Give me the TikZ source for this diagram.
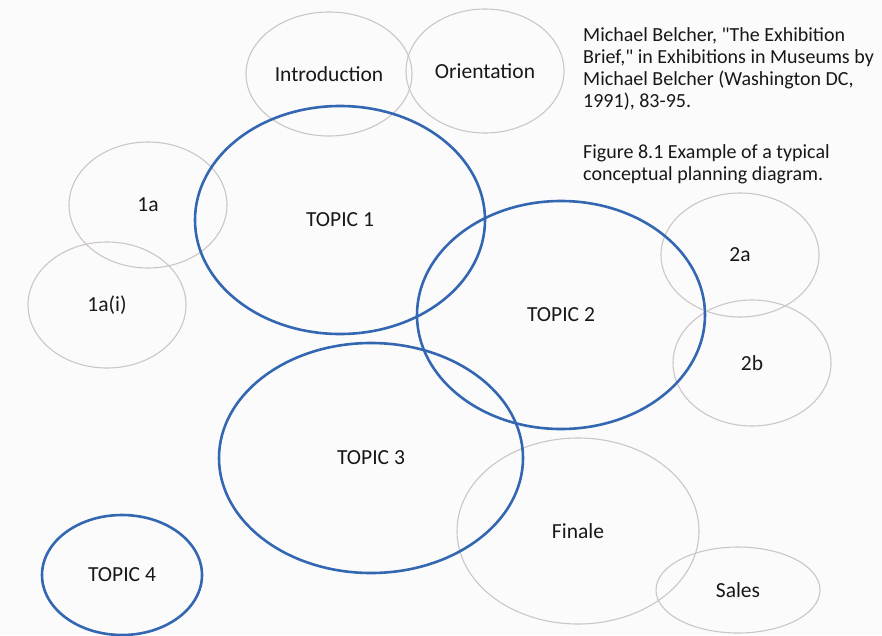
\documentclass[tikz,border=0pt]{standalone}
\usepackage{fontspec}
\setmainfont{Carlito}[Ligatures=TeXOff]
\usepackage{tikz}
\usetikzlibrary{shapes.geometric, positioning}
\definecolor{topicblue}{RGB}{52,103,178}
\definecolor{ringgray}{RGB}{204,198,198}
\definecolor{inkgray}{RGB}{24,24,24}
\tikzset{
	topicring/.style={ellipse, draw=topicblue, line width=2.6pt, inner sep=0pt,
		font=\fontsize{21.5}{24}\selectfont\color{inkgray}}
}
\tikzset{
	subring/.style={ellipse, draw=ringgray, line width=1.1pt, inner sep=0pt,
		font=\fontsize{21.5}{24}\selectfont\color{inkgray}}
}
\tikzset{
	citetext/.style={align=left, inner sep=0pt, font=\fontsize{20}{22}\selectfont\color{inkgray}}
}
\tikzset{
	ringsize/.style 2 args={minimum width=#1pt, minimum height=#2pt}
}

\begin{document}
\begin{tikzpicture}[x=1pt, y=-1pt]
  \useasboundingbox[fill={rgb,255:red,251;green,251;blue,251}] (0,0) rectangle (882,635);
  % thin rings for the side items
  \node[subring, ringsize={166}{124}] (intro) at (329,74) {Introduction};
  \node[subring, ringsize={158}{124}] (orient) at (485,71) {Orientation};
  \node[subring, ringsize={158}{126}] (s1a) at (148,205) {1a};
  \node[subring, ringsize={158}{126}] (s1ai) at (107,305) {1a(i)};
  \node[subring, ringsize={158}{124}] (s2a) at (740,255) {2a};
  \node[subring, ringsize={158}{126}] (s2b) at (752,363) {2b};
  \node[subring, ringsize={242}{186}] (finale) at (578,531) {Finale};
  \node[subring, ringsize={164}{86}] (sales) at (738,590) {Sales};
  % heavy rings for the topics
  \node[topicring, ringsize={290}{228}] (t1) at (340,220) {TOPIC 1};
  \node[topicring, ringsize={288}{228}] (t2) at (561,315) {TOPIC 2};
  \node[topicring, ringsize={304}{230}] (t3) at (371,458) {TOPIC 3};
  \node[topicring, ringsize={160}{120}] (t4) at (122,575) {TOPIC 4};
  % source note
  \node[citetext, anchor=north west] (cite) at (583,27) {Michael Belcher, "The Exhibition\\
    Brief," in Exhibitions in Museums by\\
    Michael Belcher (Washington DC,\\
    1991), 83-95.};
  \node[citetext, below=34pt of cite.south west, anchor=north west] (figcap) {Figure 8.1 Example of a typical\\
    conceptual planning diagram.};
\end{tikzpicture}
\end{document}
